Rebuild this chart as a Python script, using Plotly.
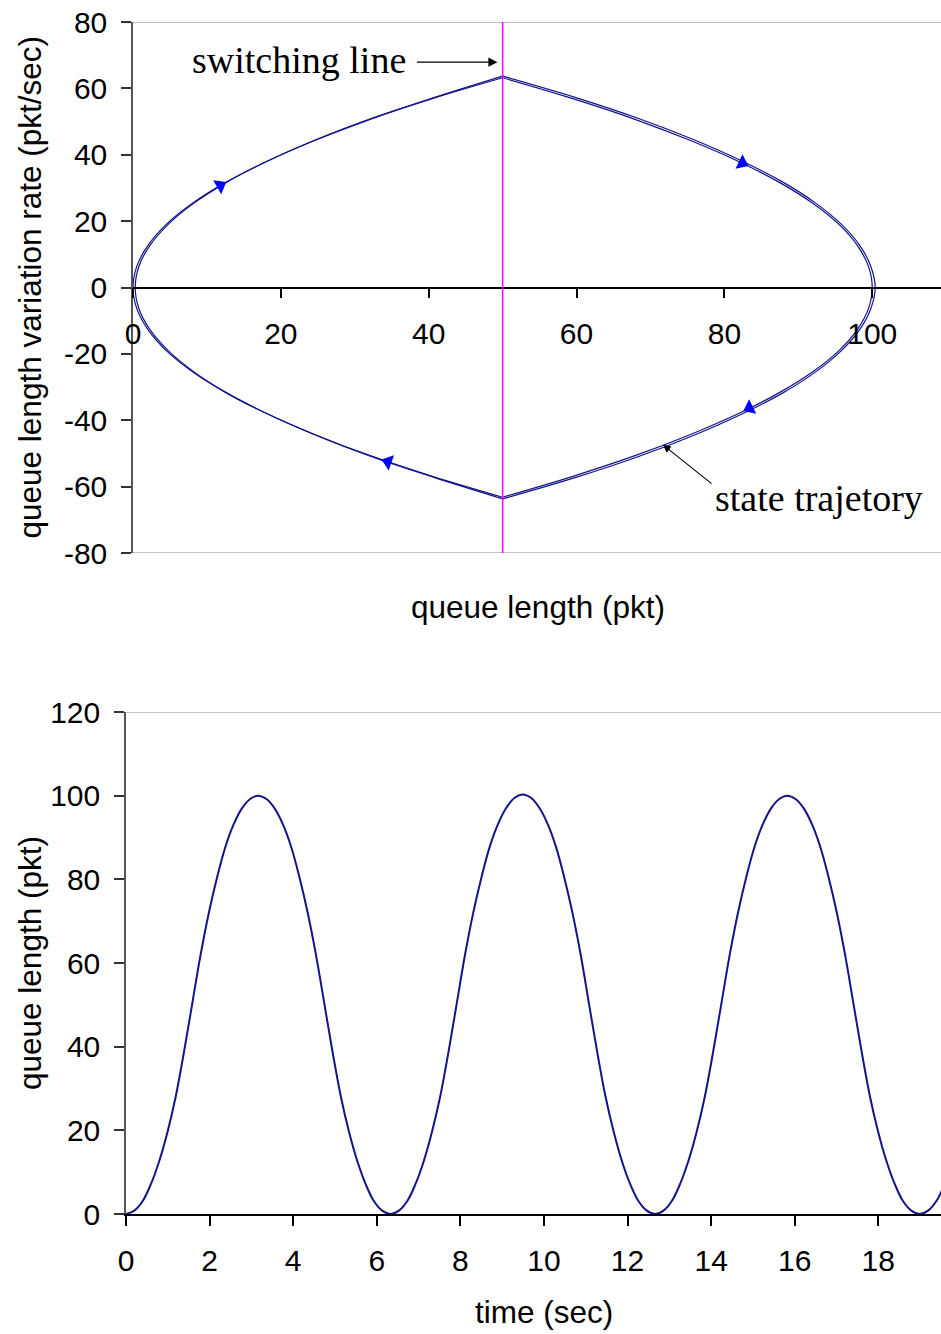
import plotly.graph_objects as go

# ---------------- data: phase-plane trajectory (two near-identical cycles) -------------
# cycle 1
c1_q_left_up = [50, 40.5, 32, 24.5, 18, 12.5, 8, 4.5, 2, 0.5, 0, 0.5, 2, 4.5, 8, 12.5, 18, 24.5, 32, 40.5, 50]
c1_v_left_up = [-63.2, -56.9, -50.6, -44.2, -37.9, -31.6, -25.3, -19.0, -12.6, -6.3, 0,
                6.3, 12.6, 19.0, 25.3, 31.6, 37.9, 44.2, 50.6, 56.9, 63.2]
c1_q_right = [50, 59.5, 68, 75.5, 82, 87.5, 92, 95.5, 98, 99.5, 100, 99.5, 98, 95.5, 92, 87.5, 82, 75.5, 68, 59.5, 50]
c1_v_right = [63.2, 56.9, 50.6, 44.2, 37.9, 31.6, 25.3, 19.0, 12.6, 6.3, 0,
              -6.3, -12.6, -19.0, -25.3, -31.6, -37.9, -44.2, -50.6, -56.9, -63.2]
# cycle 2 (slightly larger)
c2_q_left_up = [50, 40.8, 32.3, 24.8, 18.3, 12.8, 8.3, 4.8, 2.3, 0.8, 0.3, 0.8, 2.3, 4.8, 8.3, 12.8, 18.3, 24.8, 32.3, 40.8, 50]
c2_v_left_up = [-63.7, -57.3, -51.0, -44.6, -38.2, -31.9, -25.5, -19.1, -12.7, -6.4, 0,
                6.4, 12.7, 19.1, 25.5, 31.9, 38.2, 44.6, 51.0, 57.3, 63.7]
c2_q_right = [50, 59.8, 68.3, 75.8, 82.3, 87.8, 92.3, 95.8, 98.3, 99.8, 100.4, 99.8, 98.3, 95.8, 92.3, 87.8, 82.3, 75.8, 68.3, 59.8, 50]
c2_v_right = [63.7, 57.3, 51.0, 44.6, 38.2, 31.9, 25.5, 19.1, 12.7, 6.4, 0,
              -6.4, -12.7, -19.1, -25.5, -31.9, -38.2, -44.6, -51.0, -57.3, -63.7]

# direction arrows on the trajectory
arrow_q = [11.8, 82.4, 83.4, 34.5]
arrow_v = [30.7, 37.5, -36.3, -52.5]
arrow_angle = [60, 115.5, 244, 288.8]

switch_q = 50

# ---------------- data: queue length vs time ----------------
t_sec = [0.00, 0.20, 0.40, 0.59, 0.79, 0.99, 1.19, 1.38, 1.58, 1.78, 1.98, 2.18, 2.37, 2.57, 2.77, 2.97,
         3.16, 3.36, 3.56, 3.76, 3.96, 4.15, 4.35, 4.55, 4.75, 4.95, 5.14, 5.34, 5.54, 5.74, 5.93, 6.13,
         6.33, 6.53, 6.73, 6.92, 7.12, 7.32, 7.52, 7.71, 7.91, 8.11, 8.31, 8.51, 8.70, 8.90, 9.10, 9.30,
         9.49, 9.69, 9.89, 10.09, 10.29, 10.48, 10.68, 10.88, 11.08, 11.28, 11.47, 11.67, 11.87, 12.07, 12.26, 12.46,
         12.66, 12.86, 13.06, 13.25, 13.45, 13.65, 13.85, 14.04, 14.24, 14.44, 14.64, 14.84, 15.03, 15.23, 15.43, 15.63,
         15.82, 16.02, 16.22, 16.42, 16.62, 16.81, 17.01, 17.21, 17.41, 17.61, 17.80, 18.00, 18.20, 18.40, 18.59, 18.79,
         18.99, 19.19, 19.39, 19.58, 19.78]
q_pkt = [0, 0.8, 3.1, 7.0, 12.5, 19.5, 28.1, 38.3, 50, 61.7, 71.9, 80.5, 87.5, 93.0, 96.9, 99.2,
         100, 99.2, 96.9, 93.0, 87.5, 80.5, 71.9, 61.7, 50, 38.3, 28.1, 19.5, 12.5, 7.0, 3.1, 0.8,
         0, 0.8, 3.1, 7.0, 12.5, 19.6, 28.2, 38.4, 50.1, 61.9, 72.1, 80.7, 87.7, 93.2, 97.1, 99.5,
         100.3, 99.5, 97.1, 93.2, 87.7, 80.7, 72.1, 61.9, 50.1, 38.4, 28.2, 19.6, 12.5, 7.0, 3.1, 0.8,
         0, 0.8, 3.1, 7.0, 12.5, 19.5, 28.1, 38.3, 50, 61.7, 71.9, 80.5, 87.5, 93.0, 96.9, 99.2,
         100, 99.2, 96.9, 93.0, 87.5, 80.5, 71.9, 61.7, 50, 38.3, 28.1, 19.5, 12.5, 7.0, 3.1, 0.8,
         0, 0.8, 3.1, 7.0, 12.5]

x1_ticks = [0, 20, 40, 60, 80, 100]
y1_ticks = [-80, -60, -40, -20, 0, 20, 40, 60, 80]
y1_ticklabels = ["-80", "-60", "-40", "-20", "0", "20", "40", "60", "80"]
x2_ticks = [0, 2, 4, 6, 8, 10, 12, 14, 16, 18]
y2_ticks = [0, 20, 40, 60, 80, 100, 120]

# ---------------- figure ----------------
W, H = 941, 1334
NAVY = "#14148a"
SANS = "Liberation Sans, Arial, sans-serif"
SERIF = "Liberation Serif, Times New Roman, serif"
FS = 30
FT = 31.5

fig = go.Figure()
for qq, vv in [(c1_q_left_up, c1_v_left_up), (c1_q_right, c1_v_right),
               (c2_q_left_up, c2_v_left_up), (c2_q_right, c2_v_right)]:
    fig.add_trace(go.Scatter(x=qq, y=vv, mode="lines", xaxis="x", yaxis="y",
                             line=dict(color=NAVY, width=1.2, shape="spline", smoothing=1.0),
                             showlegend=False, hoverinfo="skip"))

fig.add_trace(go.Scatter(x=arrow_q, y=arrow_v, mode="markers", xaxis="x", yaxis="y",
                         marker=dict(symbol="triangle-up", size=14, color="#0000ff",
                                     angle=arrow_angle, line=dict(width=0)),
                         showlegend=False, hoverinfo="skip"))

fig.add_trace(go.Scatter(x=t_sec, y=q_pkt, mode="lines", xaxis="x2", yaxis="y2",
                         line=dict(color=NAVY, width=2, shape="spline", smoothing=1.0),
                         showlegend=False, hoverinfo="skip"))

y1_dom = [1 - 553 / H, 1 - 22 / H]
y0_paper = (y1_dom[0] + y1_dom[1]) / 2

axis_common = dict(showgrid=False, zeroline=False, ticks="outside", ticklen=10, tickwidth=1.5,
                   tickfont=dict(family=SANS, size=FS, color="black"), showline=True,
                   automargin=False)

fig.update_layout(
    width=W, height=H,
    margin=dict(l=0, r=0, t=0, b=0, pad=0),
    paper_bgcolor="white", plot_bgcolor="white",
    xaxis=dict(domain=[133 / W, 1.0], range=[0, 109.3], anchor="free", position=y0_paper,
               tickvals=x1_ticks, linecolor="black", linewidth=1.5, tickcolor="black",
               ticklabelstandoff=10, **axis_common),
    yaxis=dict(domain=y1_dom, range=[-80, 80], tickvals=y1_ticks, ticktext=y1_ticklabels, anchor="x",
               linecolor="#555555", linewidth=1.5, tickcolor="#333333",
               ticklabelstandoff=8, **axis_common),
    xaxis2=dict(domain=[126 / W, 1.0], range=[0, 19.5], tickvals=x2_ticks, anchor="y2",
                linecolor="black", linewidth=1.5, tickcolor="black", ticklabelstandoff=9, **axis_common),
    yaxis2=dict(domain=[1 - 1214 / H, 1 - 712 / H], range=[0, 120], tickvals=y2_ticks, anchor="x2",
                linecolor="#555555", linewidth=1.5, tickcolor="#333333", ticklabelstandoff=8, **axis_common),
)

# plot-area borders (top / bottom grey lines)
for yv, xr, yr in [(80, "x domain", "y"), (-80, "x domain", "y"), (120, "x2 domain", "y2")]:
    fig.add_shape(type="line", xref=xr, yref=yr, x0=0, x1=1, y0=yv, y1=yv,
                  line=dict(color="#b0b0b0", width=1.5), layer="below")

# switching line
fig.add_shape(type="line", xref="x", yref="y", x0=switch_q, x1=switch_q, y0=-80, y1=80,
              line=dict(color="#ff00ff", width=1.5))

# annotations
fig.add_annotation(x=7.7, y=68.5, xref="x", yref="y", text="switching line", showarrow=False,
                   xanchor="left", yanchor="middle", font=dict(family=SERIF, size=38, color="black"))
fig.add_annotation(x=49.3, y=67.9, xref="x", yref="y", text="", showarrow=True,
                   ax=-82, ay=0, arrowhead=2, arrowsize=1.4, arrowwidth=1.3, arrowcolor="black", standoff=0)
fig.add_annotation(x=78.5, y=-63.4, xref="x", yref="y", text="state trajetory", showarrow=False,
                   xanchor="left", yanchor="middle", font=dict(family=SERIF, size=38, color="black"))
fig.add_annotation(x=71.7, y=-47.4, xref="x", yref="y", text="", showarrow=True,
                   ax=50, ay=40, arrowhead=2, arrowsize=1.4, arrowwidth=1.1, arrowcolor="black", standoff=0)

# axis titles
title_font = dict(family=SANS, size=FT, color="black")
fig.add_annotation(x=30 / W, y=1 - 287.5 / H, xref="paper", yref="paper", textangle=-90,
                   xanchor="center", yanchor="middle",
                   text="queue length variation rate (pkt/sec)", showarrow=False, font=title_font)
fig.add_annotation(x=538 / W, y=1 - 607 / H, xref="paper", yref="paper",
                   xanchor="center", yanchor="middle",
                   text="queue length (pkt)", showarrow=False, font=title_font)
fig.add_annotation(x=30 / W, y=1 - 963 / H, xref="paper", yref="paper", textangle=-90,
                   xanchor="center", yanchor="middle",
                   text="queue length (pkt)", showarrow=False, font=title_font)
fig.add_annotation(x=544 / W, y=1 - 1312 / H, xref="paper", yref="paper",
                   xanchor="center", yanchor="middle",
                   text="time (sec)", showarrow=False, font=title_font)

fig.write_html("out.html")
